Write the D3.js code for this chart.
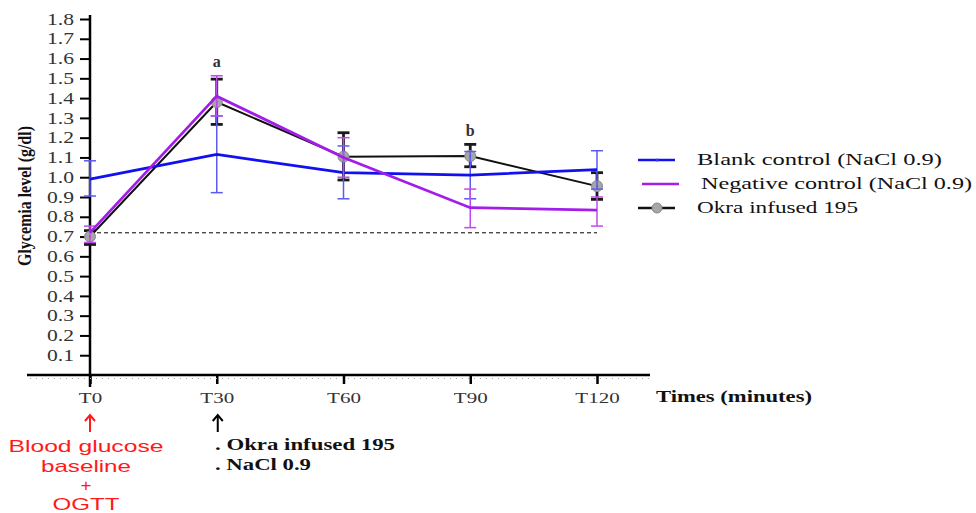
<!DOCTYPE html>
<html lang="en">
<head>
<meta charset="UTF-8">
<title>Glycemia OGTT</title>
<script src="https://d3js.org/d3.v7.min.js"></script>
<style>
  body { margin: 0; background: #fff; }
  svg { display: block; }
  .tick text { font-family: "Liberation Serif", serif; fill: #333; }
</style>
</head>
<body>
<div id="chart"></div>
<script>
const width = 976;
const height = 513;

// data
const times = ["T0", "T30", "T60", "T90", "T120"];
const blankMean = [0.99, 1.115, 1.023, 1.011, 1.038];
const blankLow  = [0.905, 0.922, 0.891, 0.891, 0.94];
const blankHigh = [1.083, 1.31, 1.158, 1.13, 1.134];
const negMean = [0.72, 1.41, 1.10, 0.846, 0.834];
const negLow  = [0.67, 1.31, 1.00, 0.745, 0.753];
const negHigh = [0.753, 1.513, 1.20, 0.94, 0.90];
const okraMean = [0.70, 1.38, 1.104, 1.107, 0.955];
const okraLow  = [0.66, 1.267, 0.986, 1.053, 0.888];
const okraHigh = [0.73, 1.496, 1.225, 1.166, 1.023];
const yTicks = [0.1, 0.2, 0.3, 0.4, 0.5, 0.6, 0.7, 0.8, 0.9, 1.0, 1.1, 1.2, 1.3, 1.4, 1.5, 1.6, 1.7, 1.8];
const baseline = 0.719;
const letters = [{ t: "T30", label: "a", v: 1.555 }, { t: "T90", label: "b", v: 1.208 }];
const legendLabels = ["Blank control (NaCl 0.9)", "Negative control (NaCl 0.9)", "Okra infused 195"];

const x = d3.scalePoint().domain(times).range([90, 597]);
const y = d3.scaleLinear().domain([0, 1.8]).range([375, 19]);

const svg = d3.select("#chart").append("svg")
  .attr("width", width).attr("height", height);

// the source figure has horizontally stretched text
function stretch(sel, k) {
  sel.each(function () {
    const w = this.getComputedTextLength();
    d3.select(this).attr("textLength", w * k).attr("lengthAdjust", "spacingAndGlyphs");
  });
}
function fit(sel, w) {
  sel.attr("textLength", w).attr("lengthAdjust", "spacingAndGlyphs");
}

// y axis
const yAxis = svg.append("g")
  .attr("transform", "translate(90,0)")
  .call(d3.axisLeft(y).tickValues(yTicks).tickFormat(d3.format(".1f")).tickSize(10).tickSizeOuter(0).tickPadding(6));
yAxis.select(".domain").remove();
yAxis.selectAll(".tick line").attr("stroke", "#000").attr("stroke-width", 2);
yAxis.selectAll(".tick text").attr("font-size", 16).attr("fill", "#444").call(stretch, 1.35);
svg.append("line").attr("x1", 90).attr("x2", 90).attr("y1", y(1.8) - 4).attr("y2", 387)
  .attr("stroke", "#000").attr("stroke-width", 2.5);

// x axis
const xAxis = svg.append("g")
  .attr("transform", "translate(0,375)")
  .call(d3.axisBottom(x).tickSize(9).tickSizeOuter(0).tickPadding(8));
xAxis.select(".domain").remove();
xAxis.selectAll(".tick line").attr("stroke", "#000").attr("stroke-width", 2.5);
xAxis.selectAll(".tick text").attr("font-size", 15).attr("fill", "#444").call(stretch, 1.4);
svg.append("line").attr("x1", 27).attr("x2", 650).attr("y1", 375).attr("y2", 375)
  .attr("stroke", "#000").attr("stroke-width", 2.5);
svg.append("line").attr("x1", 30).attr("x2", 650).attr("y1", 378.5).attr("y2", 378.5)
  .attr("stroke", "#aaa").attr("stroke-width", 1).attr("stroke-dasharray", "1,5");

svg.append("text").attr("x", 656).attr("y", 402)
  .attr("font-family", "Liberation Serif, serif").attr("font-weight", "bold").attr("font-size", 16)
  .attr("fill", "#111")
  .text("Times (minutes)").call(fit, 156);

svg.append("text")
  .attr("transform", "translate(31,196) rotate(-90)")
  .attr("text-anchor", "middle")
  .attr("font-family", "Liberation Serif, serif").attr("font-weight", "bold").attr("font-size", 18)
  .attr("fill", "#111")
  .text("Glycemia level (g/dl)").call(fit, 140);

// baseline dashed
svg.append("line").attr("x1", x("T0")).attr("x2", x("T120"))
  .attr("y1", y(baseline)).attr("y2", y(baseline))
  .attr("stroke", "#000").attr("stroke-width", 1).attr("stroke-dasharray", "4,3");

const line = d3.line().x(d => x(d.t)).y(d => y(d.v));

function drawSeries(mean, low, high, color, errColor, lw, ew, capW, marker) {
  const pts = times.map((t, i) => ({ t, v: mean[i], lo: low[i], hi: high[i] }));
  const g = svg.append("g");
  g.selectAll(".err").data(pts).join("line")
    .attr("x1", d => x(d.t)).attr("x2", d => x(d.t))
    .attr("y1", d => y(d.lo)).attr("y2", d => y(d.hi))
    .attr("stroke", errColor).attr("stroke-width", ew);
  ["lo", "hi"].forEach(k => {
    g.selectAll(".cap" + k).data(pts).join("line")
      .attr("x1", d => x(d.t) - capW).attr("x2", d => x(d.t) + capW)
      .attr("y1", d => y(d[k])).attr("y2", d => y(d[k]))
      .attr("stroke", errColor).attr("stroke-width", ew);
  });
  g.append("path").datum(pts).attr("d", line)
    .attr("fill", "none").attr("stroke", color).attr("stroke-width", lw);
  if (marker) {
    g.selectAll("circle").data(pts).join("circle")
      .attr("cx", d => x(d.t)).attr("cy", d => y(d.v)).attr("r", 5.5)
      .attr("fill", "#a6a6a6").attr("stroke", "#888").attr("stroke-width", 1);
    g.selectAll(".dot").data(pts).join("circle")
      .attr("cx", d => x(d.t)).attr("cy", d => y(d.v)).attr("r", 1)
      .attr("fill", "#555");
  }
}

drawSeries(okraMean, okraLow, okraHigh, "#111", "#1a1a1a", 2, 2.8, 6, true);
drawSeries(blankMean, blankLow, blankHigh, "#1010f0", "#5a5af5", 2.8, 1.5, 6, false);
drawSeries(negMean, negLow, negHigh, "#a21ee8", "#c04af0", 2.8, 1.5, 6, false);

// significance letters
svg.selectAll(".letter").data(letters).join("text")
  .attr("x", d => x(d.t)).attr("y", d => y(d.v))
  .attr("text-anchor", "middle")
  .attr("font-family", "Liberation Serif, serif").attr("font-weight", "bold").attr("font-size", 16)
  .attr("fill", "#333")
  .text(d => d.label);

// legend
const legColors = ["#1010f0", "#a21ee8", "#111"];
const legWidths = [245, 271, 161];
const leg = svg.append("g");
legendLabels.forEach((lab, i) => {
  const yy = 160 + i * 24;
  const off = i === 1 ? 4 : 0;
  leg.append("line").attr("x1", 638 + off).attr("x2", 675 + off)
    .attr("y1", yy).attr("y2", yy).attr("stroke", legColors[i]).attr("stroke-width", 2.5);
  if (i === 2) {
    leg.append("circle").attr("cx", 657).attr("cy", yy).attr("r", 5)
      .attr("fill", "#a6a6a6").attr("stroke", "#888");
  } else if (i === 0) {
    leg.append("circle").attr("cx", 657).attr("cy", yy).attr("r", 1.5).attr("fill", "#33f");
  }
  leg.append("text").attr("x", 697 + off).attr("y", yy + 5)
    .attr("font-family", "Liberation Serif, serif").attr("font-size", 16).attr("fill", "#111")
    .text(lab).call(fit, legWidths[i]);
});

// annotations below axis: arrows
function arrow(cx, color) {
  svg.append("line").attr("x1", cx).attr("x2", cx).attr("y1", 432).attr("y2", 416)
    .attr("stroke", color).attr("stroke-width", 2);
  svg.append("path").attr("d", `M${cx - 5},${421} L${cx},${415} L${cx + 5},${421}`)
    .attr("fill", "none").attr("stroke", color).attr("stroke-width", 2);
}
arrow(x("T0"), "#ff1a1a");
arrow(x("T30") + 1, "#000");

const red = ["Blood glucose", "baseline", "+", "OGTT"];
const redW = [155, 90, 11, 67];
const redY = [452, 472, 491, 510];
red.forEach((t, i) => {
  svg.append("text").attr("x", 86).attr("y", redY[i]).attr("text-anchor", "middle")
    .attr("font-family", "Liberation Sans, Arial, sans-serif").attr("font-size", 17).attr("fill", "#ff1a1a")
    .text(t).call(fit, redW[i]);
});
const notes = [". Okra infused 195", ". NaCl 0.9"];
const notesW = [180, 96];
notes.forEach((t, i) => {
  svg.append("text").attr("x", 215).attr("y", 450 + i * 19.5)
    .attr("font-family", "Liberation Serif, serif").attr("font-weight", "bold").attr("font-size", 16)
    .attr("fill", "#111").text(t).call(fit, notesW[i]);
});
</script>
</body>
</html>
